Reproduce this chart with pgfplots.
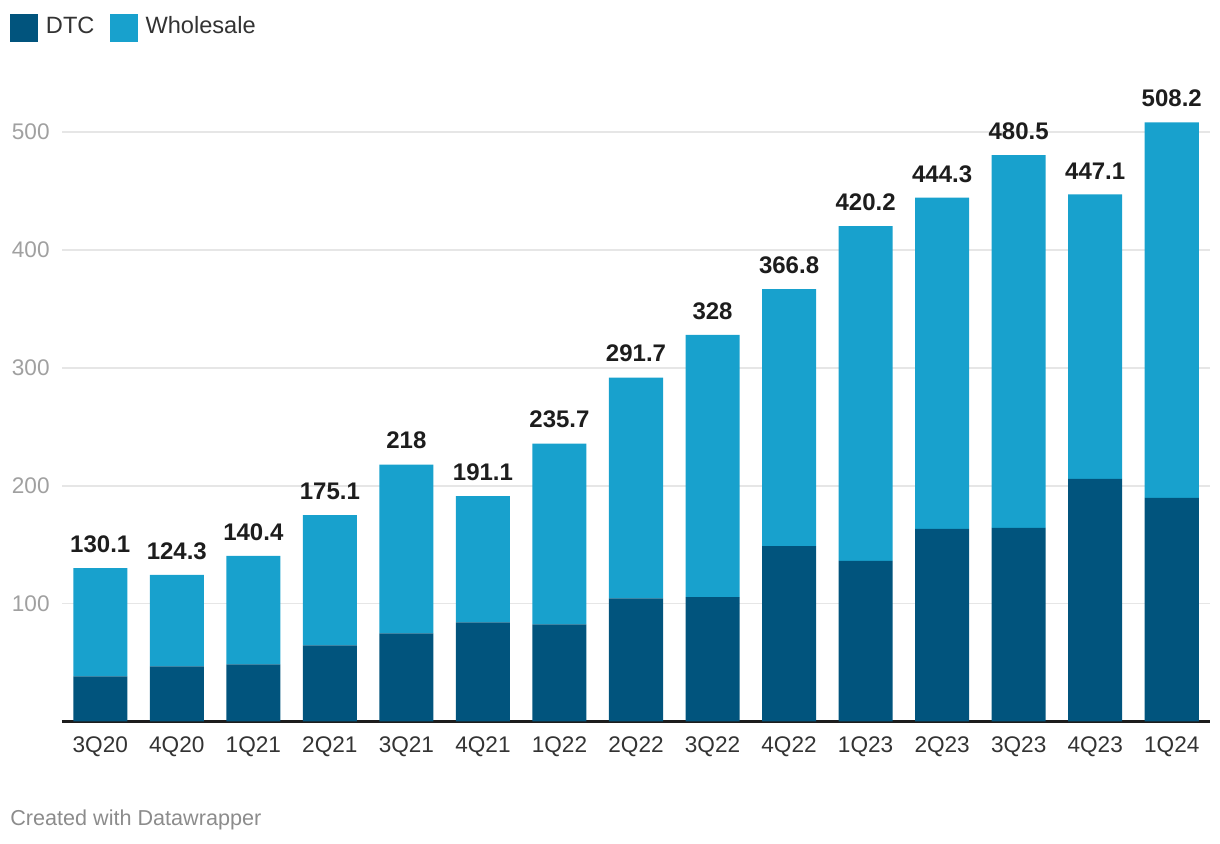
\documentclass[border=0pt]{standalone}
\usepackage{fontspec}
\setmainfont{Liberation Sans}
\usepackage{pgfplots}
\pgfplotsset{compat=1.18}
\usepackage{pgfplotstable}
\definecolor{dtc}{HTML}{01547D}
\definecolor{whs}{HTML}{18A1CD}
\definecolor{gridc}{HTML}{E6E6E6}
\definecolor{ticky}{HTML}{A0A0A0}
\definecolor{tickx}{HTML}{333333}
\definecolor{lab}{HTML}{1D1D1D}
\definecolor{foot}{HTML}{8C8C8C}

\pgfplotstableread{
x q dtc whs total
0 3Q20 38.2 91.9 130.1
1 4Q20 46.7 77.6 124.3
2 1Q21 48.4 92.0 140.4
3 2Q21 64.6 110.5 175.1
4 3Q21 74.8 143.2 218
5 4Q21 84.1 107.0 191.1
6 1Q22 82.4 153.3 235.7
7 2Q22 104.5 187.2 291.7
8 3Q22 105.4 222.6 328
9 4Q22 148.7 218.1 366.8
10 1Q23 136.3 283.9 420.2
11 2Q23 163.4 280.9 444.3
12 3Q23 164.2 316.3 480.5
13 4Q23 205.8 241.3 447.1
14 1Q24 189.7 318.5 508.2
}\data

\pgfplotsset{common/.style={
  at={(31pt,61.25pt)}, anchor=south west,
  scale only axis, width=574pt, height=306.5pt,
  xmin=-0.5, xmax=14.5, ymin=0, ymax=520,
  enlargelimits=false, clip=false}}

\begin{document}
\begin{tikzpicture}
\useasboundingbox (0,0) rectangle (610pt,422pt);
\begin{axis}[
  common,
  ybar stacked, bar width=0.706,
  ytick={100,200,300,400,500},
  xtick=data, xticklabels from table={\data}{q},
  axis line style={draw=none},
  major tick length=0,
  ymajorgrids, grid style={gridc, line width=0.8pt},
  extra y ticks={0}, extra y tick labels={},
  extra y tick style={grid style={lab, line width=1.1pt}},
  /pgf/number format/assume math mode=true,
  yticklabel style={font=\fontsize{11.3}{13}\selectfont, text=ticky, anchor=east, inner sep=0pt, xshift=-6pt},
  xticklabel style={font=\fontsize{11.3}{13}\selectfont, text=tickx, anchor=north, inner sep=0pt, yshift=-7.6pt},
  legend image code/.code={\fill[#1] (0pt,-4.5pt) rectangle (14pt,9.5pt);},
  legend style={draw=none, fill=none, at={(axis description cs:0,1)}, anchor=north west,
    xshift=-26pt, yshift=47.2pt, legend columns=2, inner sep=0pt, outer sep=0pt,
    nodes={inner sep=0pt, anchor=base west, font=\fontsize{11.8}{14}\selectfont, text=tickx},
    /tikz/every odd column/.append style={column sep=4pt},
    /tikz/every even column/.append style={column sep=7.5pt}},
]
\addplot[fill=dtc, draw=none] table[x=x, y=dtc] {\data};
\addlegendentry{DTC}
\addplot[fill=whs, draw=none] table[x=x, y=whs] {\data};
\addlegendentry{Wholesale}
\end{axis}
\begin{axis}[common, hide axis]
\addplot[draw=none, mark=none, nodes near coords, point meta=explicit symbolic,
  every node near coord/.append style={font=\bfseries\fontsize{12}{14}\selectfont, text=lab, inner sep=0pt, anchor=south, yshift=7.5pt}]
  table[x=x, y=total, meta=total] {\data};
\end{axis}
\node[anchor=base west, inner sep=0pt, font=\fontsize{10.8}{13}\selectfont, text=foot] at (5pt,9pt) {Created with Datawrapper};
\end{tikzpicture}
\end{document}
